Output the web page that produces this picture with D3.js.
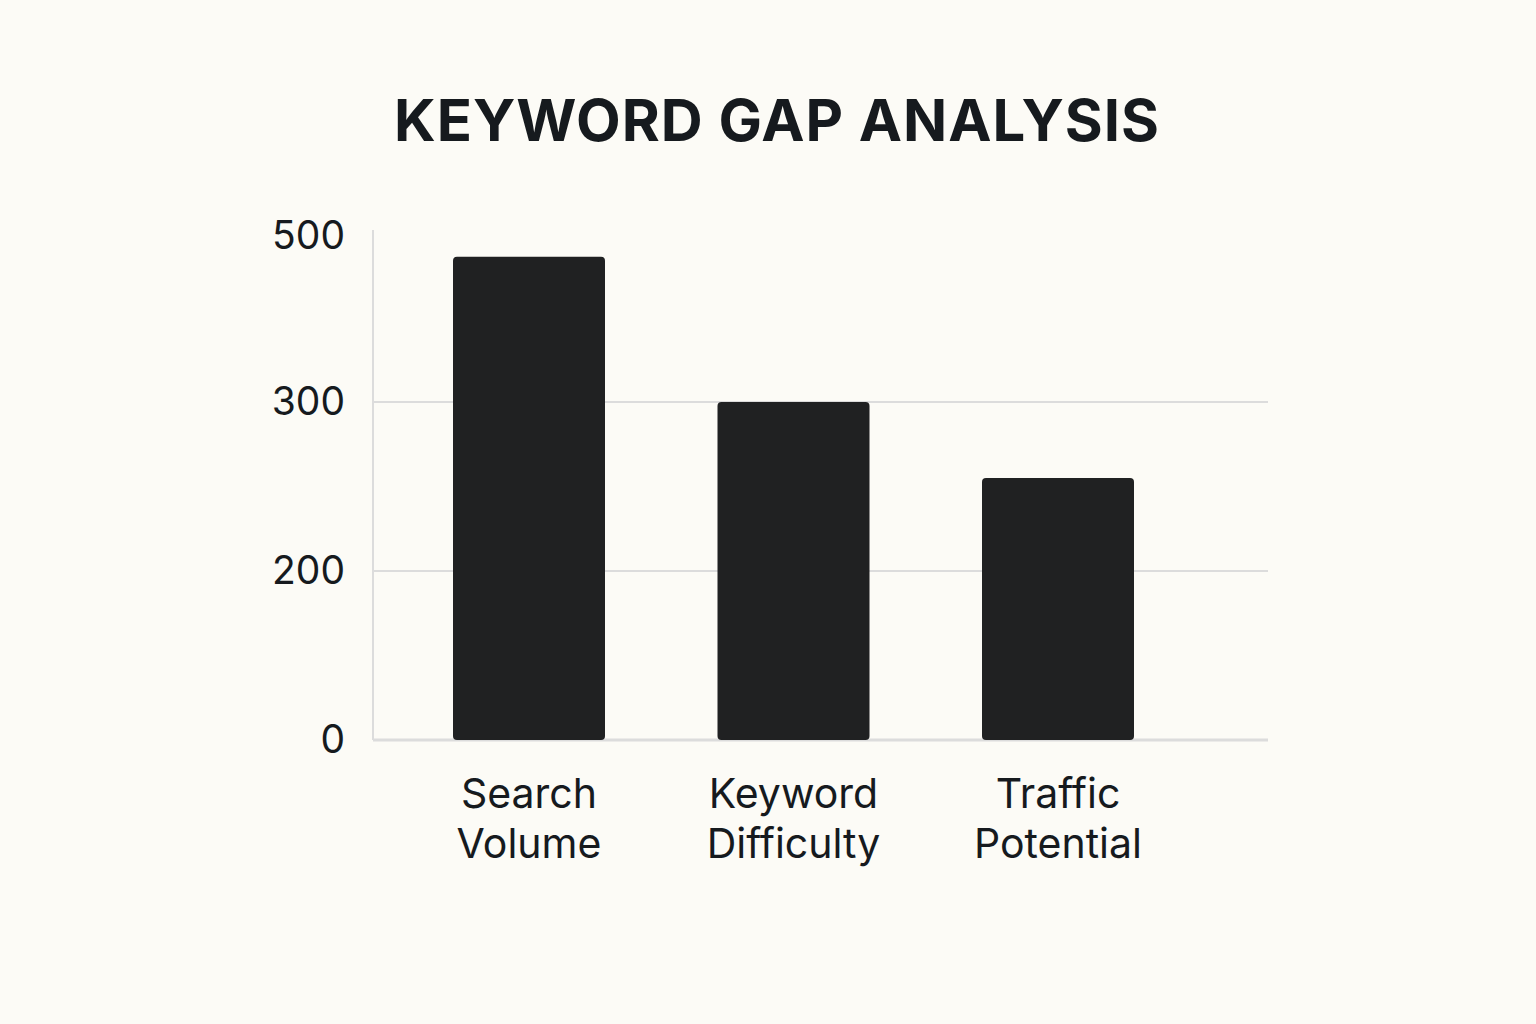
<!DOCTYPE html>
<html><head><meta charset="utf-8">
<script src="https://cdn.jsdelivr.net/npm/d3@7"></script>
<style>body{margin:0;background:#fcfbf6;}svg{display:block;font-family:Inter,"Noto Sans",sans-serif;}</style>
</head><body>
<svg id="c" width="1536" height="1024"></svg>
<script>
const categories = [["Search","Volume"],["Keyword","Difficulty"],["Traffic","Potential"]];
const values = [475, 300, 255];
const tickValues = [0, 200, 300, 500];
const tickLabels = ["0","200","300","500"];
const gridValues = [200, 300];

const svg = d3.select("#c");
svg.append("rect").attr("width",1536).attr("height",1024).attr("fill","#fcfbf6");
svg.append("text").attr("x",777).attr("y",141).attr("text-anchor","middle")
  .attr("font-size",58).attr("font-weight",700).attr("letter-spacing",1).attr("fill","#161a1e").text("KEYWORD GAP ANALYSIS");

const y = d3.scaleLinear().domain(tickValues).range([740,571,402,236]);
const x = d3.scalePoint().domain(d3.range(categories.length)).range([529,1058]);
const bw = 152;

svg.selectAll(".grid").data(gridValues).join("line")
  .attr("x1",373).attr("x2",1268).attr("y1",d=>y(d)).attr("y2",d=>y(d))
  .attr("stroke","#dcdcdc").attr("stroke-width",2);
svg.append("line").attr("x1",373).attr("x2",373).attr("y1",230).attr("y2",740).attr("stroke","#dcdcdc").attr("stroke-width",2);
svg.append("line").attr("x1",373).attr("x2",1268).attr("y1",740).attr("y2",740).attr("stroke","#dcdcdc").attr("stroke-width",3);

svg.selectAll(".bar").data(values).join("rect")
  .attr("x",(d,i)=>x(i)-bw/2).attr("width",bw)
  .attr("y",d=>y(d)).attr("height",d=>y(0)-y(d))
  .attr("rx",4).attr("fill","#202122");

svg.selectAll(".tick").data(tickValues).join("text")
  .attr("x",345).attr("y",d=>y(d)+13).attr("text-anchor","end")
  .attr("font-size",39).attr("fill","#161a1e").text((d,i)=>tickLabels[i]);

categories.forEach((c,i)=>{
  c.forEach((l,j)=>svg.append("text").attr("x",x(i)).attr("y",808+j*50)
    .attr("text-anchor","middle").attr("font-size",41).attr("fill","#161a1e").text(l));
});
</script>
</body></html>
